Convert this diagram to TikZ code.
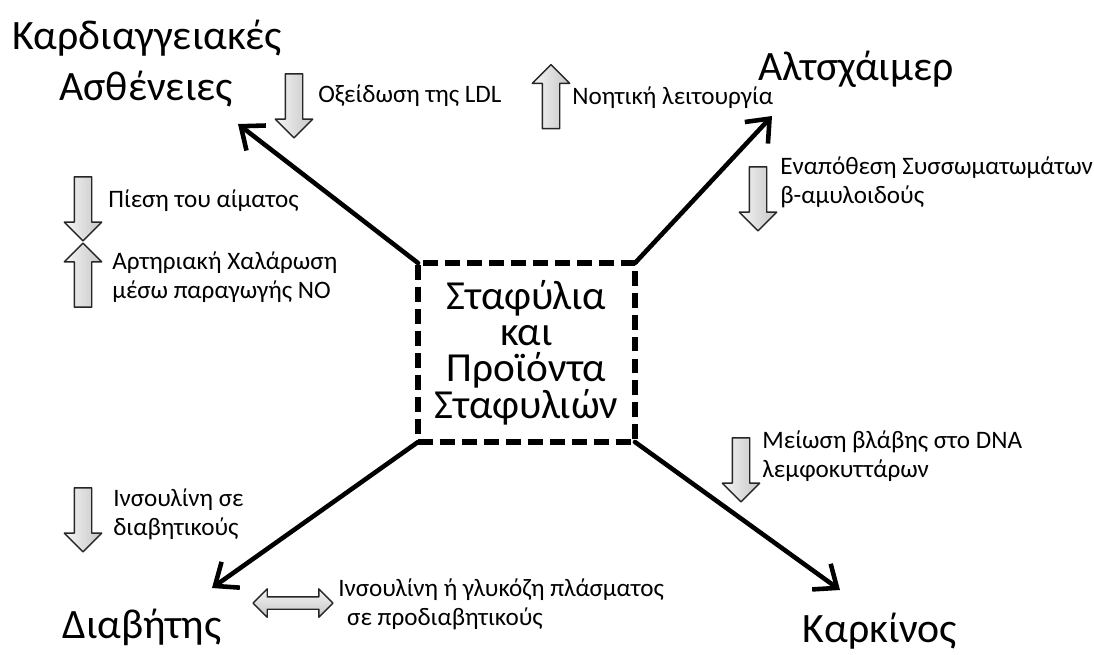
\documentclass[tikz,border=0pt]{standalone}
\usepackage{fontspec}
\setmainfont{Carlito}
\usetikzlibrary{arrows.meta,shapes.arrows}

\begin{document}
\begin{tikzpicture}[x=0.02cm,y=-0.02cm,>={Straight Barb[length=11pt,width=18pt]},line cap=round,line join=round,
  big/.style={font=\fontsize{23.8}{28}\selectfont,inner sep=0pt},
  small/.style={font=\fontsize{14.3}{16}\selectfont,inner sep=0pt,align=left,anchor=base west},
  link/.style={->,line width=2.6pt},
  cue/.style={single arrow,draw=black!85,line width=0.8pt,left color=gray!8,right color=gray!45,minimum height=12.8mm,inner xsep=0pt,inner ysep=1.6mm,single arrow head extend=2mm,single arrow tip angle=90},
  cuedown/.style={cue,rotate=-90},
  cueup/.style={cue,rotate=90},
  twin/.style={double arrow,draw=black!85,line width=0.8pt,top color=gray!8,bottom color=gray!45,minimum height=16mm,inner xsep=0pt,inner ysep=1.1mm,double arrow head extend=1.6mm,double arrow tip angle=90}]
\useasboundingbox (0,0) rectangle (1094,654);
\node[draw,line width=3.2pt,line cap=butt,dash pattern=on 8.5pt off 4pt,minimum width=4.34cm,minimum height=3.58cm,outer sep=0pt,align=center,font=\fontsize{23.5}{20.6}\selectfont] (core) at (526.5,352.5) {Σταφύλια\\και\\Προϊόντα\\Σταφυλιών};
\node[big,anchor=base] (cvd1) at (147,49) {Καρδιαγγειακές};
\node[big,anchor=base] (cvd2) at (146,100) {Ασθένειες};
\node[big,anchor=base] (alz) at (856,80) {Αλτσχάιμερ};
\node[big,anchor=base] (dia) at (142,638) {Διαβήτης};
\node[big,anchor=base] (can) at (880,642) {Καρκίνος};
\coordinate (cvdtip) at (238,124);
\coordinate (alztip) at (772,116);
\coordinate (diatip) at (212,588);
\coordinate (cantip) at (840,590);
\draw[link] (core.north west) -- (cvdtip);
\draw[link] (core.north east) -- (alztip);
\draw[link] (core.south west) -- (diatip);
\draw[link] (core.south east) -- (cantip);
\node[cuedown] (ldlcue) at (294,101.5) {};
\node[cueup] (noecue) at (551,101) {};
\node[cuedown] (amycue) at (758,194.5) {};
\node[cuedown] (prscue) at (83,204.5) {};
\node[cueup] (relcue) at (83,279.5) {};
\node[cuedown] (dnacue) at (741,465.5) {};
\node[cuedown] (inscue) at (83,515.5) {};
\node[twin] (glucue) at (293,603) {};
\node[small] (ldl) at (318,102) {Οξείδωση της LDL};
\node[small] (noe) at (572,104) {Νοητική λειτουργία};
\node[small] (amy) at (780,203) {Εναπόθεση Συσσωματωμάτων\\β-αμυλοιδούς};
\node[small] (prs) at (108,207) {Πίεση του αίματος};
\node[small] (rel) at (112,298) {Αρτηριακή Χαλάρωση\\μέσω παραγωγής NO};
\node[small] (dna) at (762,477) {Μείωση βλάβης στο DNA\\λεμφοκυττάρων};
\node[small] (ins) at (113,535) {Ινσουλίνη σε\\διαβητικούς};
\node[small] (glu) at (338,625) {Ινσουλίνη ή γλυκόζη πλάσματος\\\hspace*{5pt}σε προδιαβητικούς};
\end{tikzpicture}
\end{document}
